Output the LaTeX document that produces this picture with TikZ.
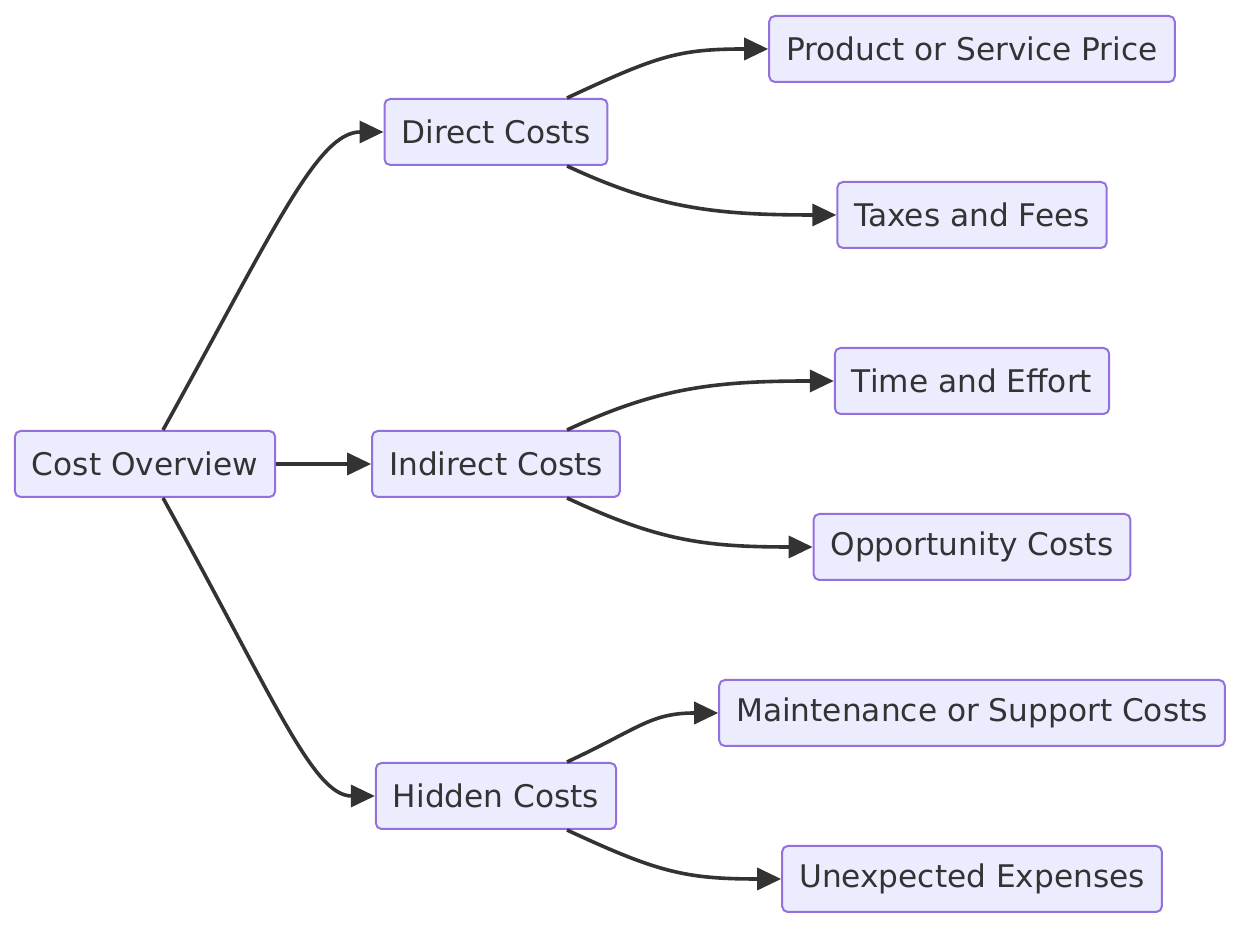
\documentclass[tikz,border=0pt]{standalone}
\usepackage{fontspec}
\setmainfont{DejaVu Sans}
\usetikzlibrary{arrows.meta,positioning}
\definecolor{lilac}{HTML}{ECECFF}
\definecolor{lavender}{HTML}{9370DB}
\definecolor{ink}{HTML}{333333}
\tikzset{
  costbox/.style={
    rectangle, rounded corners=2.8pt, draw=lavender, fill=lilac,
    line width=1pt, text=ink,
    font=\fontsize{15.6}{18}\selectfont,
    minimum height=33pt, inner xsep=8.5pt
  },
  flow/.style={
    -{Triangle[length=12pt, width=11pt]}, line width=1.8pt, color=ink
  },
}

\begin{document}
\begin{tikzpicture}[x=0.5pt, y=0.5pt]
  \useasboundingbox (0,0) rectangle (1258,940);
  % root and the three cost groups
  \node[costbox] (overview) at (145,476) {Cost Overview};
  \node[costbox] (direct) at (496,808) {Direct Costs};
  \node[costbox] (indirect) at (496,476) {Indirect Costs};
  \node[costbox] (hidden) at (496,144) {Hidden Costs};
  % leaves
  \node[costbox] (price) at (972,891) {Product or Service Price};
  \node[costbox] (taxes) at (972,725) {Taxes and Fees};
  \node[costbox] (effort) at (972,559) {Time and Effort};
  \node[costbox] (opportunity) at (972,393) {Opportunity Costs};
  \node[costbox] (support) at (972,227) {Maintenance or Support Costs};
  \node[costbox] (unexpected) at (972,61) {Unexpected Expenses};

  \draw[flow] ([xshift=9pt]overview.north) .. controls +(61:115pt) and +(-33pt,0) .. (direct.west);
  \draw[flow] (overview) -- (indirect);
  \draw[flow] ([xshift=9pt]overview.south) .. controls +(-61:115pt) and +(-31pt,0) .. (hidden.west);

  \draw[flow] ([xshift=35.5pt]direct.north) .. controls +(25:50pt) and +(-45pt,0) .. (price.west);
  \draw[flow] ([xshift=35.5pt]direct.south) .. controls +(-25:50pt) and +(-61pt,0) .. (taxes.west);
  \draw[flow] ([xshift=35.5pt]indirect.north) .. controls +(25:50pt) and +(-60pt,0) .. (effort.west);
  \draw[flow] ([xshift=35.5pt]indirect.south) .. controls +(-25:50pt) and +(-55pt,0) .. (opportunity.west);
  \draw[flow] ([xshift=35.5pt]hidden.north) .. controls +(25:40pt) and +(-34pt,0) .. (support.west);
  \draw[flow] ([xshift=35.5pt]hidden.south) .. controls +(-25:50pt) and +(-48pt,0) .. (unexpected.west);
\end{tikzpicture}
\end{document}
